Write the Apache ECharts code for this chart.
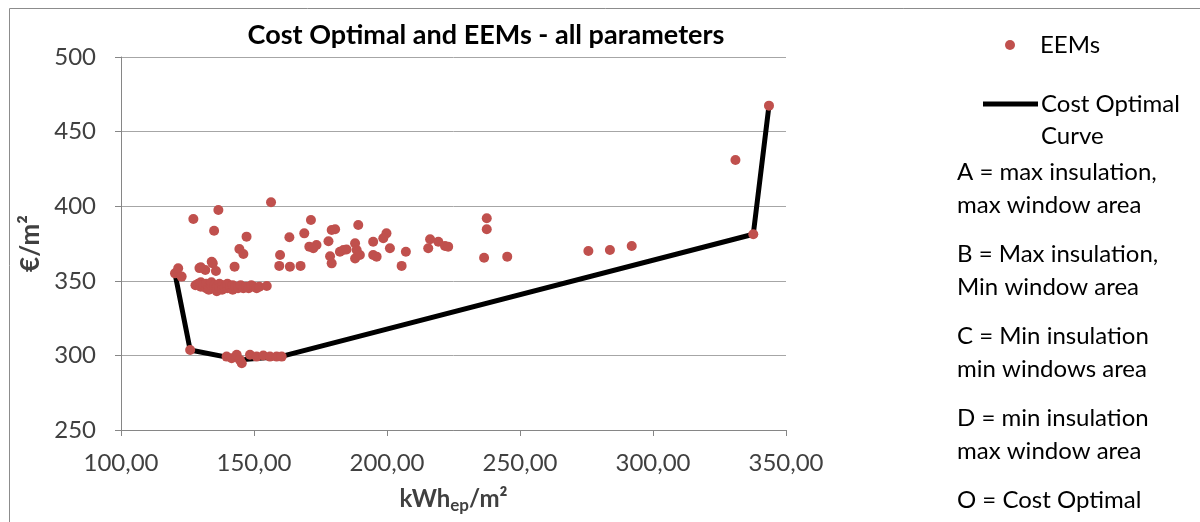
<!DOCTYPE html>
<html>
<head>
<meta charset="utf-8">
<script src="https://cdn.jsdelivr.net/npm/echarts@6/dist/echarts.min.js"></script>
<style>html,body{margin:0;padding:0;background:#fff}#c{width:1200px;height:522px}</style>
</head>
<body>
<div id="c"></div>
<script>
// EEM scatter points (kWh_ep/m2, €/m2)
const eemX = [120.3,121.5,122.8,126,
  127.2,136.6,135,147.2,144.5,146,142.7,156.4,159.8,159.5,
  130,134.5,135.7,131.7,134.1,129.5,
  128,129,130,130,131,132,132,133,133,134,134,135,135,136,136,137,137,138,138,139,140,140,141,142,142,143,144,145,146,147,148,149,150,151,152,154.8,
  139.7,141.6,143.5,144.7,145.4,148.5,151,153.5,156,158.5,160.4,
  171.4,163.3,168.9,179.2,180.5,178,170.8,173.5,172.3,178.6,179.2,182.3,183.6,184.8,163.5,167.5,
  189.2,188,188.6,188,189.8,194.8,194.8,196.1,199.8,198.6,201.1,207.1,205.5,
  216.2,215.5,219.3,221.8,223,237.5,237.5,236.5,245.2,275.7,283.8,292,331,337.7,343.6];
const eemY = [355,358.4,352.8,303.6,
  391.4,397.5,383.6,379.6,371.3,368,359.5,402.6,367.3,360,
  359,361.7,356.6,357.2,362.8,358.5,
  347,348,346,349,347,345,348,346,344,347,349,345,347,346,343,348,345,347,344,346,345,348,346,344,347,346,345,347,345,346,345,347,346,345,346,346.5,
  299.2,298.1,300.4,297,294.7,300.4,299.2,299.9,299.2,299.2,299.2,
  390.8,379.2,381.8,384,384.5,376.5,372.9,374,371.8,366.5,361.7,369.5,370.6,371,359.5,360,
  387.4,375.1,370.6,365,367.3,376.2,367.3,366.2,381.8,378.5,371.8,369.5,360,
  377.8,371.8,376.2,373.3,372.9,391.9,384.5,365.5,366.2,370,370.6,373.3,431,381.2,467.4];
// Cost optimal curve
const curveX = [120.5,126,145,160,337.7,343.6];
const curveY = [353,303.6,297,299.2,381.2,467.4];
// Axis ticks
const xTicks = [100,150,200,250,300,350];
const yTicks = [250,300,350,400,450,500];
// Notes
const notes = ['A = max insulation,','max window area','B = Max insulation,','Min window area','C = Min insulation','min windows area','D = min insulation','max window area','O = Cost Optimal'];
const noteY = [174,207,256,289,338,371,420,453,502];

const FONT = 'Lato';
const chart = echarts.init(document.getElementById('c'));
const eemData = eemX.map((x,i)=>[x,eemY[i]]);
const curveData = curveX.map((x,i)=>[x,curveY[i]]);

chart.setOption({
  animation:false,
  textStyle:{fontFamily:FONT},
  title:{text:'Cost Optimal and EEMs - all parameters',left:481,top:17,textAlign:'center',
    textStyle:{fontFamily:FONT,fontSize:27,fontWeight:'bold',color:'#000'}},
  grid:{left:121,right:414,top:57,bottom:92,containLabel:false},
  legend:[
    {data:['EEMs'],left:1005,top:33,padding:0,icon:'circle',itemWidth:10,itemHeight:10,
     textStyle:{fontFamily:FONT,fontSize:24,color:'#000',padding:[0,0,0,20]}},
    {data:['Cost Optimal Curve'],left:983,top:92,padding:0,icon:'rect',itemWidth:55,itemHeight:5,
     formatter:()=> 'Cost Optimal',
     textStyle:{fontFamily:FONT,fontSize:24,color:'#000',padding:[0,0,0,-2]}}
  ],
  xAxis:{type:'value',min:xTicks[0],max:xTicks[xTicks.length-1],interval:50,
    axisLine:{show:true,lineStyle:{color:'#868686',width:1}},
    axisTick:{show:true,length:6,lineStyle:{color:'#868686'}},
    splitLine:{show:false},
    axisLabel:{fontFamily:FONT,fontSize:24,color:'#404040',margin:21,formatter:v=>v.toFixed(2).replace('.',',')},
    name:'{b|kWh}{s|ep}{b|/m²}',nameLocation:'middle',nameGap:55,
    nameTextStyle:{rich:{b:{fontFamily:FONT,fontSize:24,fontWeight:'bold',color:'#404040'},
      s:{fontFamily:FONT,fontSize:17,fontWeight:'bold',color:'#404040',padding:[12,0,0,0]}}}
  },
  yAxis:{type:'value',min:yTicks[0],max:yTicks[yTicks.length-1],interval:50,
    axisLine:{show:true,lineStyle:{color:'#868686',width:1}},
    axisTick:{show:true,length:6,lineStyle:{color:'#868686'}},
    splitLine:{show:true,lineStyle:{color:'#A6A6A6',width:1}},
    axisLabel:{fontFamily:FONT,fontSize:24,color:'#404040',margin:25},
    name:'€/m²',nameLocation:'middle',nameGap:74,nameRotate:90,
    nameTextStyle:{fontFamily:FONT,fontSize:26,fontWeight:'bold',color:'#404040'}
  },
  series:[
    {name:'Cost Optimal Curve',type:'line',data:curveData,showSymbol:false,symbol:'none',
     lineStyle:{color:'#000',width:5},itemStyle:{color:'#000'},z:2},
    {name:'EEMs',type:'scatter',data:eemData,symbolSize:10,itemStyle:{color:'#C0504D',opacity:1},z:3}
  ],
  graphic:[
    {type:'rect',shape:{x:9.5,y:8.5,width:1300,height:600},style:{fill:'none',stroke:'#8c8c8c',lineWidth:1},silent:true},
    {type:'text',left:1041,top:124,style:{text:'Curve',fontFamily:FONT,fontSize:24,fill:'#000'}}
  ].concat(notes.map((t,i)=>({type:'text',left:957,top:noteY[i]-14,style:{text:t,fontFamily:FONT,fontSize:24,fill:'#000'}})))
});
</script>
</body>
</html>
